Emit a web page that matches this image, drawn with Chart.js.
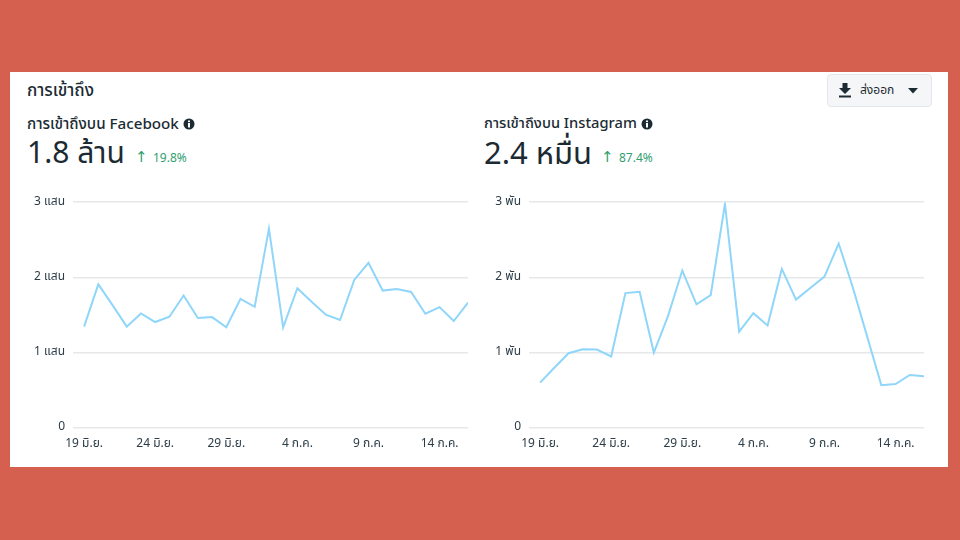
<!DOCTYPE html>
<html><head><meta charset="utf-8">
<script src="https://cdn.jsdelivr.net/npm/chart.js@4/dist/chart.umd.min.js"></script>
<style>
html,body{margin:0;padding:0;width:960px;height:540px;overflow:hidden;background:#d5604f;font-family:"Noto Sans Thai","Noto Sans","DejaVu Sans",sans-serif;color:#1c2b33}
#card{position:absolute;left:10px;top:72px;width:938px;height:395px;background:#fff}
.t{position:absolute;white-space:nowrap;line-height:1}
.wrap{position:absolute}
canvas{display:block}
#btn{position:absolute;left:827px;top:74px;width:103px;height:31px;background:#f5f6f7;border:1px solid #e4e6e9;border-radius:4px;box-sizing:content-box}
</style></head><body>
<div id="card"></div>
<div class="t" style="left:27px;top:83px;font-size:17px;font-weight:500">การเข้าถึง</div>
<div class="t" style="left:27px;top:117px;font-size:15.2px;font-weight:500">การเข้าถึงบน Facebook</div>
<svg style="position:absolute;left:183px;top:118px" width="12" height="12" viewBox="0 0 12 12"><circle cx="6" cy="6" r="5.5" fill="#1c2b33"/><rect x="5" y="5" width="2" height="4.5" fill="#fff"/><rect x="5" y="2.5" width="2" height="1.6" fill="#fff"/></svg>
<div class="t" style="left:27px;top:139px;font-size:30px">1.8 ล้าน</div>
<div class="t" style="left:135px;top:150px;font-size:15px;color:#31a06f">↑</div>
<div class="t" style="left:153px;top:152px;font-size:12px;color:#31a06f">19.8%</div>
<div class="t" style="left:484px;top:117px;font-size:14.7px;font-weight:500">การเข้าถึงบน Instagram</div>
<svg style="position:absolute;left:641px;top:118px" width="12" height="12" viewBox="0 0 12 12"><circle cx="6" cy="6" r="5.5" fill="#1c2b33"/><rect x="5" y="5" width="2" height="4.5" fill="#fff"/><rect x="5" y="2.5" width="2" height="1.6" fill="#fff"/></svg>
<div class="t" style="left:484px;top:139px;font-size:31px">2.4 หมื่น</div>
<div class="t" style="left:601px;top:150px;font-size:15px;color:#31a06f">↑</div>
<div class="t" style="left:619px;top:152px;font-size:12px;color:#31a06f">87.4%</div>
<div id="btn"></div>
<div class="t" style="left:860px;top:84px;font-size:12px">ส่งออก</div>
<svg style="position:absolute;left:838px;top:83px" width="14" height="15" viewBox="0 0 14 15"><path d="M4.5 0h5v5h3.5L7 11 1 5h3.5z" fill="#1c2b33"/><rect x="1" y="12.5" width="12" height="2" fill="#1c2b33"/></svg>
<svg style="position:absolute;left:908px;top:88px" width="10" height="6"><path d="M0 0h10L5 5.5z" fill="#1c2b33"/></svg>
<div class="wrap" style="left:0;top:187px;width:480px;height:270px"><canvas id="fb" width="480" height="270"></canvas></div>
<div class="wrap" style="left:480px;top:187px;width:460px;height:270px"><canvas id="ig" width="460" height="270"></canvas></div>
<script>
const dayIndex=[0,1,2,3,4,5,6,7,8,9,10,11,12,13,14,15,16,17,18,19,20,21,22,23,24,25,26,27];
const facebookReach=[134400,190700,163000,134400,152000,140500,147600,175800,145800,147100,133500,171400,160800,264800,133500,185500,167400,150200,143200,196500,219400,182400,184600,180600,151500,160400,141900,166500];
const instagramReach=[598,796,990,1043,1038,946,1790,1808,999,1487,2090,1641,1764,2978,1276,1522,1359,2112,1703,1857,2010,2450,1861,1214,563,580,700,682];
const xTickPositions=[0,5,10,15,20,25];
const xTickLabels=['19 มิ.ย.','24 มิ.ย.','29 มิ.ย.','4 ก.ค.','9 ก.ค.','14 ก.ค.'];
const fbTicks=[0,100000,200000,300000];
const fbTickLabels=['0','1 แสน','2 แสน','3 แสน'];
const igTicks=[0,1000,2000,3000];
const igTickLabels=['0','1 พัน','2 พัน','3 พัน'];
const fontFamily='"Noto Sans Thai","Noto Sans","DejaVu Sans",sans-serif';
function make(id,vals,ticks,tickLabels,left,right){
  new Chart(document.getElementById(id),{type:'line',
    data:{datasets:[{data:dayIndex.map((d,i)=>({x:d,y:vals[i]})),borderColor:'#8fd6fa',borderWidth:2,pointRadius:0,tension:0,borderJoinStyle:'miter',fill:false}]},
    options:{responsive:false,animation:false,
      layout:{padding:{left:0,right:right,top:8,bottom:3}},
      plugins:{legend:{display:false},tooltip:{enabled:false}},
      scales:{
        x:{type:'linear',min:-0.78,max:27,grid:{display:false},border:{display:false},
          afterBuildTicks:a=>{a.ticks=xTickPositions.map(v=>({value:v}))},
          ticks:{autoSkip:false,maxRotation:0,padding:2,color:'#2b3c47',font:{size:12,family:fontFamily},
            callback:v=>xTickLabels[xTickPositions.indexOf(v)]}},
        y:{min:0,max:ticks[3],afterFit:a=>{a.width=left},
          grid:{color:'#e6e8ea',lineWidth:1.5,drawTicks:false},border:{display:false},
          afterBuildTicks:a=>{a.ticks=ticks.map(v=>({value:v}))},
          ticks:{padding:8,color:'#2b3c47',font:{size:12,family:fontFamily},
            callback:v=>tickLabels[ticks.indexOf(v)]}}
      }}});
}
make('fb',facebookReach,fbTicks,fbTickLabels,73,12);
make('ig',instagramReach,igTicks,igTickLabels,49,16);
</script>
</body></html>
